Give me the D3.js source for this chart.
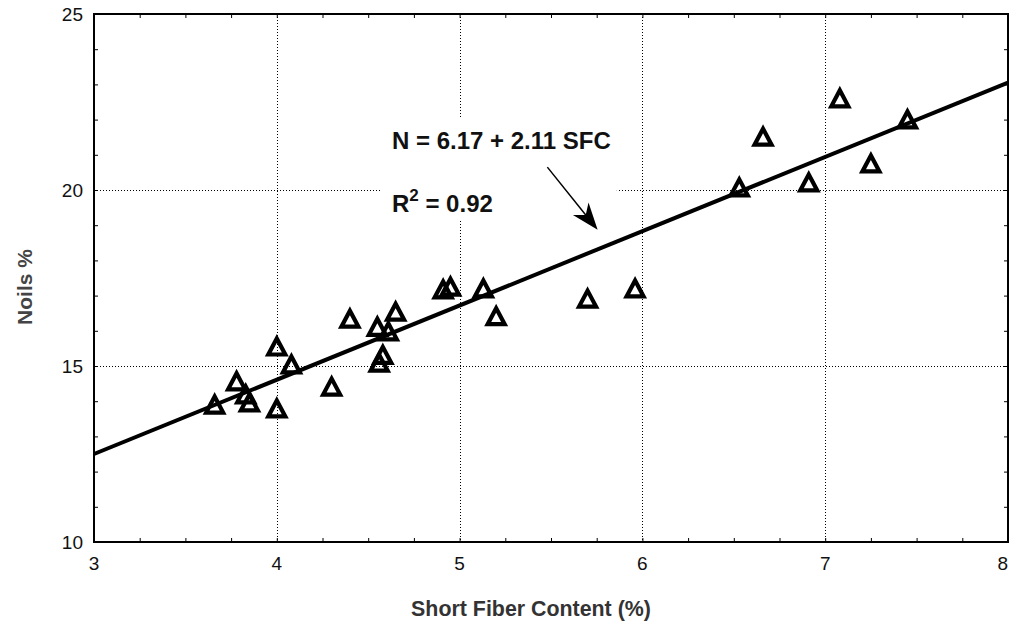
<!DOCTYPE html>
<html>
<head>
<meta charset="utf-8">
<script src="https://cdn.jsdelivr.net/npm/d3@7"></script>
<style>
  body { margin: 0; background: #fff; }
  svg { display: block; }
  text { font-family: "Liberation Sans", Arial, sans-serif; }
</style>
</head>
<body>
<div id="main"></div>
<script>
// data
const sfc = [3.66, 3.78, 3.83, 3.85, 4.00, 4.00, 4.08, 4.30, 4.40, 4.55, 4.56, 4.58, 4.61,
  4.65, 4.91, 4.95, 5.13, 5.20, 5.70, 5.96, 6.53, 6.66, 6.91, 7.08, 7.25, 7.45];
const noils = [13.89, 14.55, 14.18, 13.95, 13.78, 15.54, 15.03, 14.40, 16.33, 16.10, 15.08, 15.30, 15.97,
  16.53, 17.16, 17.24, 17.19, 16.40, 16.90, 17.19, 20.06, 21.50, 20.20, 22.59, 20.74, 21.99];
const xTicks = [3, 4, 5, 6, 7, 8];
const yTicks = [10, 15, 20, 25];
// fitted line N = a + b * SFC
const intercept = 6.17;
const slope = 2.11;
const fitLabel = 'N = 6.17 + 2.11 SFC';
const r2Value = '0.92';

const width = 1010;
const height = 623;
const margin = { left: 94, right: 2, top: 14, bottom: 81 };

const svg = d3.select('#main')
  .append('svg')
  .attr('width', width)
  .attr('height', height);

const xScale = d3.scaleLinear()
  .domain([3, 8])
  .range([margin.left, width - margin.right]);
const yScale = d3.scaleLinear()
  .domain([10, 25])
  .range([height - margin.bottom, margin.top]);

const x0 = xScale.range()[0], x1 = xScale.range()[1];
const y0 = yScale.range()[0], y1 = yScale.range()[1];

// dotted grid
const grid = svg.append('g')
  .attr('stroke', '#000')
  .attr('stroke-width', 1)
  .attr('stroke-dasharray', '1,2');
grid.selectAll('line.gx')
  .data(xTicks.slice(1, -1))
  .enter().append('line')
  .attr('x1', (d) => Math.round(xScale(d)) + 0.5)
  .attr('x2', (d) => Math.round(xScale(d)) + 0.5)
  .attr('y1', y1)
  .attr('y2', y0);
grid.selectAll('line.gy')
  .data(yTicks.slice(1, -1))
  .enter().append('line')
  .attr('y1', (d) => Math.round(yScale(d)) + 0.5)
  .attr('y2', (d) => Math.round(yScale(d)) + 0.5)
  .attr('x1', x0)
  .attr('x2', x1);

// axes with inward ticks on all four sides
const xMinor = d3.range(3, 8.001, 0.25);
const yMinor = d3.range(10, 25.001, 1);

svg.append('g')
  .attr('transform', `translate(0, ${y0})`)
  .call(d3.axisTop(xScale).tickValues(xMinor).tickSize(4).tickFormat(''))
  .call((g) => g.select('.domain').remove());
svg.append('g')
  .attr('transform', `translate(0, ${y1})`)
  .call(d3.axisBottom(xScale).tickValues(xMinor).tickSize(4).tickFormat(''))
  .call((g) => g.select('.domain').remove());
svg.append('g')
  .attr('transform', `translate(${x0}, 0)`)
  .call(d3.axisRight(yScale).tickValues(yMinor).tickSize(4).tickFormat(''))
  .call((g) => g.select('.domain').remove());
svg.append('g')
  .attr('transform', `translate(${x1}, 0)`)
  .call(d3.axisLeft(yScale).tickValues(yMinor).tickSize(4).tickFormat(''))
  .call((g) => g.select('.domain').remove());

svg.append('rect')
  .attr('x', x0)
  .attr('y', y1)
  .attr('width', x1 - x0)
  .attr('height', y0 - y1)
  .attr('fill', 'none')
  .attr('stroke', '#000')
  .attr('stroke-width', 2);

// tick labels
svg.append('g').selectAll('text')
  .data(xTicks)
  .enter().append('text')
  .attr('x', (d) => xScale(d))
  .attr('y', y0 + 28)
  .attr('text-anchor', (d, i) => i === xTicks.length - 1 ? 'end' : 'middle')
  .attr('font-size', 19)
  .attr('fill', '#111')
  .text((d) => d);
svg.append('g').selectAll('text')
  .data(yTicks)
  .enter().append('text')
  .attr('x', x0 - 11)
  .attr('y', (d) => yScale(d) + 7)
  .attr('text-anchor', 'end')
  .attr('font-size', 19)
  .attr('fill', '#111')
  .text((d) => d);

// axis titles (condensed look by squeezing horizontally)
svg.append('text')
  .attr('transform', `translate(${(x0 + x1) / 2 - 20}, 616) scale(0.93, 1)`)
  .attr('text-anchor', 'middle')
  .attr('font-size', 23)
  .attr('font-weight', 'bold')
  .attr('fill', '#333')
  .text('Short Fiber Content (%)');
svg.append('text')
  .attr('transform', 'translate(32, 287) rotate(-90)')
  .attr('text-anchor', 'middle')
  .attr('font-size', 21)
  .attr('font-weight', 'bold')
  .attr('fill', '#444')
  .text('Noils %');

// annotation box hides the grid behind the equation
svg.append('rect')
  .attr('x', xScale(4.575))
  .attr('y', yScale(22.07))
  .attr('width', xScale(5.86) - xScale(4.575))
  .attr('height', yScale(19.15) - yScale(22.07))
  .attr('fill', '#fff');

// regression line
const fitX = [3, 8];
svg.append('path')
  .datum(fitX)
  .attr('fill', 'none')
  .attr('stroke', '#000')
  .attr('stroke-width', 4)
  .attr('d', d3.line()
    .x((d) => xScale(d))
    .y((d) => yScale(intercept + slope * d)));

// open triangles
const tri = 'M0,-9.5L8.5,6.5L-8.5,6.5Z';
svg.append('g').selectAll('path')
  .data(sfc.map((d, i) => ({ x: d, y: noils[i] })))
  .enter().append('path')
  .attr('d', tri)
  .attr('transform', (d) => `translate(${xScale(d.x)}, ${yScale(d.y) + 1})`)
  .attr('fill', 'none')
  .attr('stroke', '#000')
  .attr('stroke-width', 4.2)
  .attr('stroke-linejoin', 'miter');

// equation text
svg.append('text')
  .attr('x', xScale(4.63))
  .attr('y', yScale(21.16))
  .attr('font-size', 24)
  .attr('font-weight', 'bold')
  .attr('fill', '#111')
  .text(fitLabel);
const r2 = svg.append('text')
  .attr('x', xScale(4.63))
  .attr('y', yScale(19.375))
  .attr('font-size', 24)
  .attr('font-weight', 'bold')
  .attr('fill', '#111');
r2.append('tspan').text('R');
r2.append('tspan').attr('dy', -11).attr('font-size', 17).text('2');
r2.append('tspan').attr('dy', 11).text(' = ' + r2Value);

// arrow pointing at the line
const ax = xScale(5.48), ay = yScale(20.65);
const bx = xScale(5.755), by = yScale(18.87);
const ang = Math.atan2(by - ay, bx - ax) * 180 / Math.PI;
svg.append('line')
  .attr('x1', ax).attr('y1', ay)
  .attr('x2', bx - (bx - ax) * 0.2).attr('y2', by - (by - ay) * 0.2)
  .attr('stroke', '#000')
  .attr('stroke-width', 1.5);
svg.append('path')
  .attr('d', 'M0,0L-27,-10L-19,0L-27,10Z')
  .attr('transform', `translate(${bx}, ${by}) rotate(${ang})`)
  .attr('fill', '#000');
</script>
</body>
</html>
